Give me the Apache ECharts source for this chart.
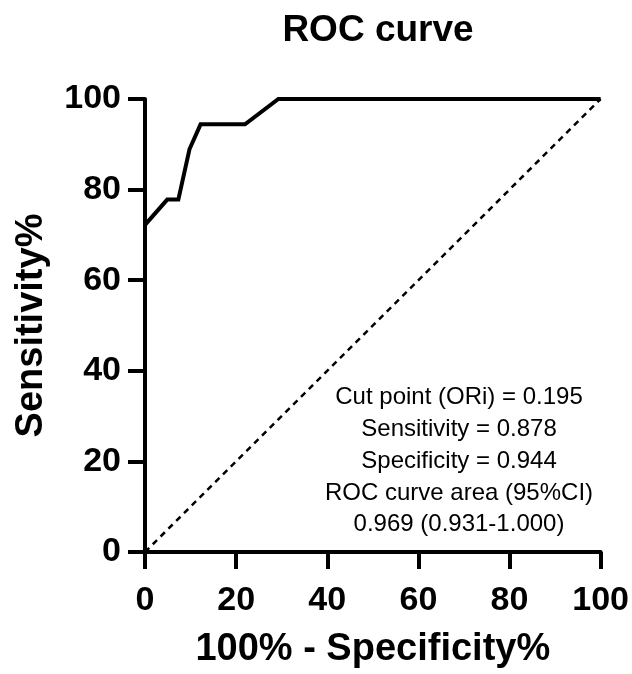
<!DOCTYPE html>
<html>
<head>
<meta charset="utf-8">
<script src="https://cdn.jsdelivr.net/npm/echarts@6/dist/echarts.min.js"></script>
<style>
html,body{margin:0;padding:0;background:#fff;}
#chart{width:632px;height:674px;}
</style>
</head>
<body>
<div id="chart"></div>
<script>
// ROC curve points: 100% - Specificity% (x) and Sensitivity% (y)
const fprValues = [0, 4.88, 7.32, 9.76, 12.2, 21.95, 29.27, 100];
const tprValues = [72.2, 77.8, 77.8, 88.9, 94.4, 94.4, 100, 100];
// Reference line
const refX = [0, 100];
const refY = [0, 100];
const tickValues = [0, 20, 40, 60, 80, 100];
const titleText = 'ROC curve';
const xName = '100% - Specificity%';
const yName = 'Sensitivity%';
const annotationLines = [
  'Cut point (ORi) = 0.195',
  'Sensitivity = 0.878',
  'Specificity = 0.944',
  'ROC curve area (95%CI)',
  '0.969 (0.931-1.000)'
];

const FONT = '"Liberation Sans", Arial, Helvetica, sans-serif';
const chart = echarts.init(document.getElementById('chart'), null, {renderer: 'canvas'});

const axisCommon = {
  type: 'value',
  min: tickValues[0], max: tickValues[tickValues.length - 1], interval: 20,
  nameLocation: 'middle',
  nameTextStyle: {fontFamily: FONT, fontWeight: 'bold', fontSize: 38, color: '#000'},
  axisLine: {show: true, lineStyle: {color: '#000', width: 4}},
  axisTick: {show: true, length: 17, lineStyle: {color: '#000', width: 4}},
  axisLabel: {fontFamily: FONT, fontWeight: 'bold', fontSize: 34, color: '#000'},
  splitLine: {show: false}
};

chart.setOption({
  backgroundColor: '#fff',
  animation: false,
  title: {
    text: titleText,
    left: 373, top: 7, textAlign: 'center',
    textStyle: {fontFamily: FONT, fontWeight: 'bold', fontSize: 37, color: '#000'}
  },
  grid: {left: 145, right: 30, top: 99, bottom: 120, containLabel: false},
  xAxis: Object.assign({}, axisCommon, {
    name: xName, nameGap: 79,
    axisLabel: Object.assign({}, axisCommon.axisLabel, {margin: 32})
  }),
  yAxis: Object.assign({}, axisCommon, {
    name: yName, nameGap: 94,
    axisLabel: Object.assign({}, axisCommon.axisLabel, {margin: 24})
  }),
  series: [
    {
      type: 'line',
      data: refX.map((x, i) => [x, refY[i]]),
      symbol: 'none',
      lineStyle: {color: '#000', width: 2.5, type: [6, 5]},
      z: 2
    },
    {
      type: 'line',
      data: fprValues.map((x, i) => [x, tprValues[i]]),
      symbol: 'none',
      lineStyle: {color: '#000', width: 4, join: 'miter'},
      z: 3
    }
  ],
  graphic: [{
    type: 'text',
    x: 459, y: 382,
    style: {
      text: annotationLines.join('\n'),
      font: '24px ' + FONT,
      fill: '#000',
      align: 'center',
      verticalAlign: 'top',
      lineHeight: 31.7
    }
  }]
});
</script>
</body>
</html>
